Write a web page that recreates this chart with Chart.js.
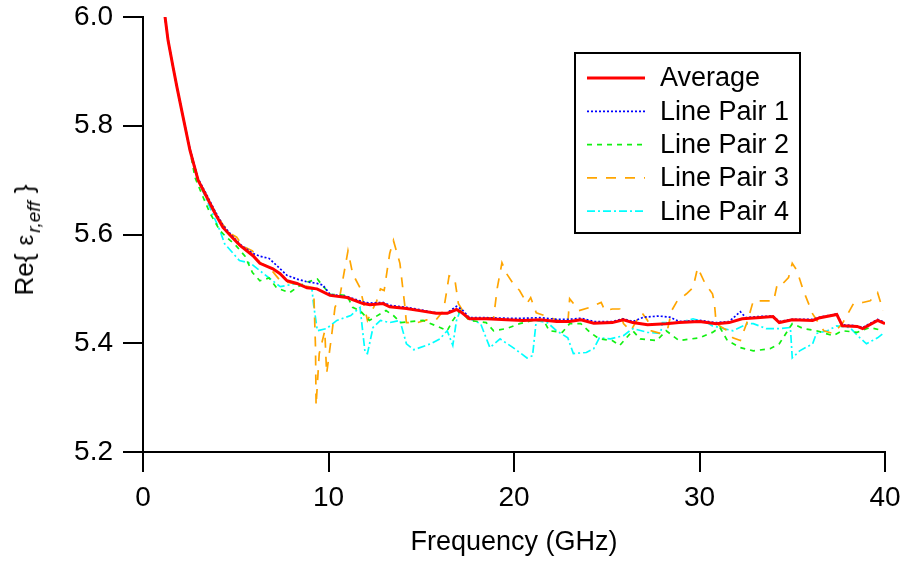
<!DOCTYPE html>
<html>
<head>
<meta charset="utf-8">
<script src="https://cdn.jsdelivr.net/npm/chart.js@4.4.1/dist/chart.umd.min.js"></script>
<style>
  html, body { margin: 0; padding: 0; background: #fff; }
  #wrap { position: relative; width: 904px; height: 563px; }
  #ylabel {
    position: absolute; left: 27px; top: 240px;
    transform: translate(-50%, -50%) rotate(-90deg);
    font-family: 'Liberation Sans', Arial, sans-serif; font-size: 26px; color: #000;
    white-space: nowrap; line-height: 1;
  }
  #ylabel .eps { font-size: 24px; margin-left: 8px; }
  #ylabel .br { margin-left: 8px; }
  #ylabel sub { font-size: 19px; font-style: italic; vertical-align: -7px; margin-left: 2px; }
</style>
</head>
<body>
<div id="wrap">
  <canvas id="epsChart"></canvas>
  <div id="ylabel">Re{<span class="eps">ε</span><sub>r,eff</sub><span class="br">}</span></div>
</div>
<script>
/* Re{eps_r,eff} vs frequency — four line pairs and their average */

// ── Data (GHz, Re{eps}) ─────────────────────────
// shared steep start below ~2.5 GHz
const startFreq = [1.1, 1.19, 1.35, 1.62, 1.83, 2.1];
const startVals = [6.03, 6.0, 5.957, 5.908, 5.871, 5.826];

const avgFreq = [2.53, 2.97, 3.45, 3.88, 4.31, 4.8, 5.23, 5.93, 6.3, 7.0, 7.39, 7.76, 8.3, 8.84, 9.38, 10.08, 11.0, 11.86, 12.24, 12.94, 13.3, 14.2, 14.9, 15.8, 16.4, 16.9, 17.2, 17.6, 18.5, 19.6, 20.5, 21.4, 22.3, 23.0, 23.6, 24.3, 25.3, 25.9, 26.4, 27.2, 28.2, 28.9, 30.0, 30.9, 31.6, 32.3, 33.1, 33.96, 34.3, 35.0, 36.1, 36.5, 37.4, 37.7, 38.5, 38.8, 39.6, 40.0];
const avgVals = [5.755, 5.70, 5.668, 5.639, 5.613, 5.595, 5.58, 5.561, 5.547, 5.537, 5.528, 5.515, 5.51, 5.502, 5.50, 5.488, 5.484, 5.473, 5.471, 5.473, 5.467, 5.464, 5.46, 5.455, 5.455, 5.462, 5.456, 5.445, 5.445, 5.443, 5.442, 5.443, 5.44, 5.44, 5.443, 5.437, 5.438, 5.443, 5.438, 5.434, 5.436, 5.438, 5.44, 5.436, 5.438, 5.445, 5.447, 5.449, 5.438, 5.443, 5.442, 5.447, 5.453, 5.432, 5.431, 5.427, 5.442, 5.436];

const lp1Freq = [2.53, 2.97, 3.45, 3.88, 4.31, 4.8, 5.23, 5.93, 6.3, 6.8, 7.3, 7.76, 8.3, 8.84, 9.38, 9.7, 10.08, 11.0, 11.86, 12.24, 12.94, 13.3, 14.2, 14.9, 15.8, 16.4, 16.9, 17.2, 17.6, 18.5, 19.6, 20.5, 21.4, 22.3, 23.0, 23.6, 24.3, 25.3, 25.9, 26.4, 27.0, 27.8, 28.4, 28.9, 30.0, 30.9, 31.6, 32.2, 32.5, 33.1, 33.96, 34.3, 35.0, 36.1, 36.5, 37.4, 37.7, 38.5, 38.8, 39.6, 40.0];
const lp1Vals = [5.757, 5.703, 5.672, 5.643, 5.617, 5.598, 5.582, 5.565, 5.56, 5.556, 5.54, 5.525, 5.518, 5.513, 5.51, 5.507, 5.49, 5.486, 5.476, 5.474, 5.475, 5.47, 5.466, 5.462, 5.456, 5.456, 5.468, 5.462, 5.447, 5.447, 5.446, 5.446, 5.447, 5.444, 5.444, 5.446, 5.44, 5.44, 5.445, 5.44, 5.448, 5.45, 5.448, 5.44, 5.442, 5.438, 5.44, 5.458, 5.447, 5.449, 5.45, 5.44, 5.444, 5.444, 5.448, 5.454, 5.434, 5.432, 5.429, 5.444, 5.438];

const lp2Freq = [2.53, 2.8, 3.2, 3.6, 4.15, 4.5, 5.0, 5.5, 5.9, 6.3, 6.8, 7.2, 7.9, 8.4, 8.8, 9.4, 9.7, 10.1, 11.0, 11.3, 11.7, 12.2, 13.1, 13.5, 13.9, 15.1, 15.8, 16.4, 16.7, 17.1, 17.6, 18.5, 18.9, 19.6, 20.3, 21.0, 21.6, 21.9, 22.6, 23.0, 23.6, 24.1, 24.6, 25.3, 25.7, 26.4, 26.8, 27.7, 28.2, 28.9, 30.0, 30.7, 31.1, 31.5, 32.2, 32.9, 33.8, 34.3, 35.0, 35.6, 36.3, 37.2, 37.7, 38.5, 39.2, 39.9];
const lp2Vals = [5.755, 5.705, 5.672, 5.64, 5.607, 5.595, 5.58, 5.56, 5.53, 5.515, 5.52, 5.502, 5.493, 5.505, 5.512, 5.518, 5.505, 5.49, 5.488, 5.466, 5.46, 5.442, 5.46, 5.451, 5.438, 5.442, 5.432, 5.423, 5.442, 5.46, 5.442, 5.438, 5.423, 5.427, 5.436, 5.442, 5.442, 5.423, 5.42, 5.436, 5.436, 5.42, 5.408, 5.405, 5.396, 5.423, 5.408, 5.405, 5.423, 5.405, 5.41, 5.42, 5.429, 5.405, 5.392, 5.386, 5.39, 5.399, 5.436, 5.427, 5.423, 5.414, 5.423, 5.42, 5.429, 5.423];

const lp3Freq = [2.53, 2.97, 3.45, 3.88, 4.31, 4.8, 5.05, 5.4, 5.9, 6.3, 6.8, 7.4, 8.1, 9.2, 9.3, 9.33, 9.5, 9.8, 9.9, 10.2, 10.35, 10.6, 11.05, 11.3, 11.7, 12.1, 12.6, 12.8, 13.0, 13.3, 13.5, 13.85, 14.1, 14.2, 14.8, 15.3, 15.8, 16.2, 16.4, 16.5, 16.8, 17.0, 17.5, 18.9, 19.1, 19.35, 19.6, 19.95, 20.3, 20.7, 20.9, 21.2, 22.9, 23.0, 23.5, 24.1, 24.7, 24.9, 25.3, 25.7, 25.9, 26.3, 26.7, 26.9, 27.2, 27.4, 27.9, 28.3, 28.5, 28.8, 29.3, 29.65, 29.9, 30.3, 30.7, 30.8, 30.9, 31.5, 31.8, 32.2, 32.6, 32.9, 34.0, 34.2, 34.5, 34.8, 35.0, 35.25, 35.6, 36.1, 36.7, 37.2, 37.7, 38.3, 38.8, 39.2, 39.6, 39.9];
const lp3Vals = [5.757, 5.702, 5.67, 5.642, 5.618, 5.6, 5.595, 5.578, 5.57, 5.548, 5.54, 5.515, 5.51, 5.502, 5.392, 5.285, 5.381, 5.423, 5.344, 5.423, 5.466, 5.484, 5.57, 5.528, 5.502, 5.442, 5.478, 5.5, 5.497, 5.565, 5.589, 5.547, 5.473, 5.438, 5.438, 5.443, 5.443, 5.46, 5.502, 5.524, 5.52, 5.473, 5.445, 5.447, 5.502, 5.548, 5.528, 5.51, 5.497, 5.473, 5.484, 5.456, 5.436, 5.482, 5.46, 5.466, 5.475, 5.46, 5.463, 5.463, 5.436, 5.423, 5.447, 5.456, 5.442, 5.423, 5.418, 5.429, 5.46, 5.478, 5.491, 5.502, 5.539, 5.51, 5.491, 5.475, 5.436, 5.423, 5.41, 5.405, 5.442, 5.478, 5.478, 5.51, 5.51, 5.521, 5.547, 5.534, 5.497, 5.454, 5.423, 5.418, 5.436, 5.473, 5.475, 5.478, 5.493, 5.46];

const lp4Freq = [2.53, 2.97, 3.45, 3.88, 4.15, 4.4, 5.2, 5.8, 6.5, 7.4, 8.3, 9.1, 9.2, 9.4, 9.9, 10.45, 11.2, 11.7, 11.97, 12.1, 12.4, 12.8, 13.3, 13.85, 14.2, 14.6, 15.5, 16.0, 16.4, 16.7, 16.9, 17.1, 17.5, 18.2, 18.7, 19.25, 19.95, 20.7, 21.0, 21.2, 21.8, 22.3, 22.9, 23.2, 23.9, 24.3, 24.6, 25.2, 25.9, 26.4, 27.2, 27.9, 28.0, 28.9, 29.65, 30.4, 30.7, 31.3, 31.8, 32.6, 32.9, 33.6, 34.3, 34.9, 35.0, 35.4, 36.1, 36.3, 36.9, 37.4, 38.1, 38.65, 39.0, 39.6, 39.9];
const lp4Vals = [5.755, 5.70, 5.662, 5.628, 5.607, 5.583, 5.552, 5.547, 5.528, 5.504, 5.51, 5.502, 5.47, 5.423, 5.427, 5.442, 5.451, 5.466, 5.383, 5.381, 5.429, 5.442, 5.438, 5.442, 5.399, 5.388, 5.399, 5.408, 5.423, 5.396, 5.442, 5.46, 5.447, 5.436, 5.392, 5.408, 5.392, 5.373, 5.377, 5.442, 5.438, 5.423, 5.41, 5.381, 5.383, 5.39, 5.41, 5.408, 5.414, 5.427, 5.42, 5.418, 5.438, 5.438, 5.445, 5.438, 5.432, 5.427, 5.423, 5.436, 5.436, 5.427, 5.427, 5.429, 5.373, 5.386, 5.399, 5.418, 5.423, 5.432, 5.429, 5.41, 5.399, 5.41, 5.418];

const seriesNames = ['Average', 'Line Pair 1', 'Line Pair 2', 'Line Pair 3', 'Line Pair 4'];
const xTicks = [0, 10, 20, 30, 40];
const yTicks = [5.2, 5.4, 5.6, 5.8, 6.0];

const toPts = (xs, ys) => startFreq.concat(xs).map((x, i) => ({ x: x, y: startVals.concat(ys)[i] }));

const sansFont = "'Liberation Sans', Arial, sans-serif";

// ── Boxed legend inside the plot ───────────────
const boxLegend = {
  id: 'boxLegend',
  afterDraw(chart) {
    const c = chart.ctx;
    c.save();
    c.setLineDash([]);
    c.lineWidth = 2;
    c.strokeStyle = '#000';
    c.strokeRect(575, 53, 225, 180);
    c.font = '27px ' + sansFont;
    c.fillStyle = '#000';
    c.textBaseline = 'middle';
    chart.data.datasets.forEach((ds, i) => {
      const y = 78 + i * 33.3;
      c.beginPath();
      c.strokeStyle = ds.borderColor;
      c.lineWidth = ds.borderWidth;
      c.setLineDash(ds.borderDash || []);
      c.moveTo(587, y);
      c.lineTo(645, y);
      c.stroke();
      c.fillText(ds.label, 660, y + 1);
    });
    c.restore();
  }
};

const ctx = document.getElementById('epsChart');

new Chart(ctx, {
  type: 'line',
  data: {
    datasets: [
      { label: seriesNames[0], data: toPts(avgFreq, avgVals), borderColor: '#ff0000', borderWidth: 3, borderDash: [] },
      { label: seriesNames[1], data: toPts(lp1Freq, lp1Vals), borderColor: '#0000ff', borderWidth: 1.7, borderDash: [2, 2] },
      { label: seriesNames[2], data: toPts(lp2Freq, lp2Vals), borderColor: '#11f011', borderWidth: 1.7, borderDash: [5, 5] },
      { label: seriesNames[3], data: toPts(lp3Freq, lp3Vals), borderColor: '#ffa500', borderWidth: 1.7, borderDash: [10, 9] },
      { label: seriesNames[4], data: toPts(lp4Freq, lp4Vals), borderColor: '#00ffff', borderWidth: 1.7, borderDash: [8, 3, 2, 3] },
    ]
  },
  options: {
    responsive: true,
    maintainAspectRatio: false,
    animation: false,
    elements: { point: { radius: 0 }, line: { tension: 0 } },
    layout: { padding: { top: 17, right: 19, left: 0, bottom: 0 } },
    plugins: {
      legend: { display: false },
      tooltip: { enabled: false }
    },
    scales: {
      x: {
        type: 'linear',
        min: 0, max: 40,
        afterFit: s => { s.height = 111; s.paddingLeft = 0; s.paddingRight = 0; },
        afterBuildTicks: s => { s.ticks = xTicks.map(v => ({ value: v })); },
        grid: { display: true, drawOnChartArea: false, drawTicks: true, tickLength: 20, color: '#000', lineWidth: 2 },
        border: { display: true, color: '#000', width: 2 },
        ticks: { color: '#000', padding: 9, maxRotation: 0, font: { size: 28, family: sansFont } },
        title: { display: true, text: 'Frequency (GHz)', color: '#000', padding: { top: 4, bottom: 4 }, font: { size: 27, family: sansFont } }
      },
      y: {
        min: 5.2, max: 6.0,
        afterFit: s => { s.width = 143; s.paddingTop = 0; s.paddingBottom = 0; },
        afterBuildTicks: s => { s.ticks = yTicks.map(v => ({ value: v })); },
        grid: { display: true, drawOnChartArea: false, drawTicks: true, tickLength: 20, color: '#000', lineWidth: 2 },
        border: { display: true, color: '#000', width: 2 },
        ticks: { color: '#000', padding: 10, callback: v => v.toFixed(1), font: { size: 28, family: sansFont } }
      }
    }
  },
  plugins: [boxLegend]
});
</script>
</body>
</html>
